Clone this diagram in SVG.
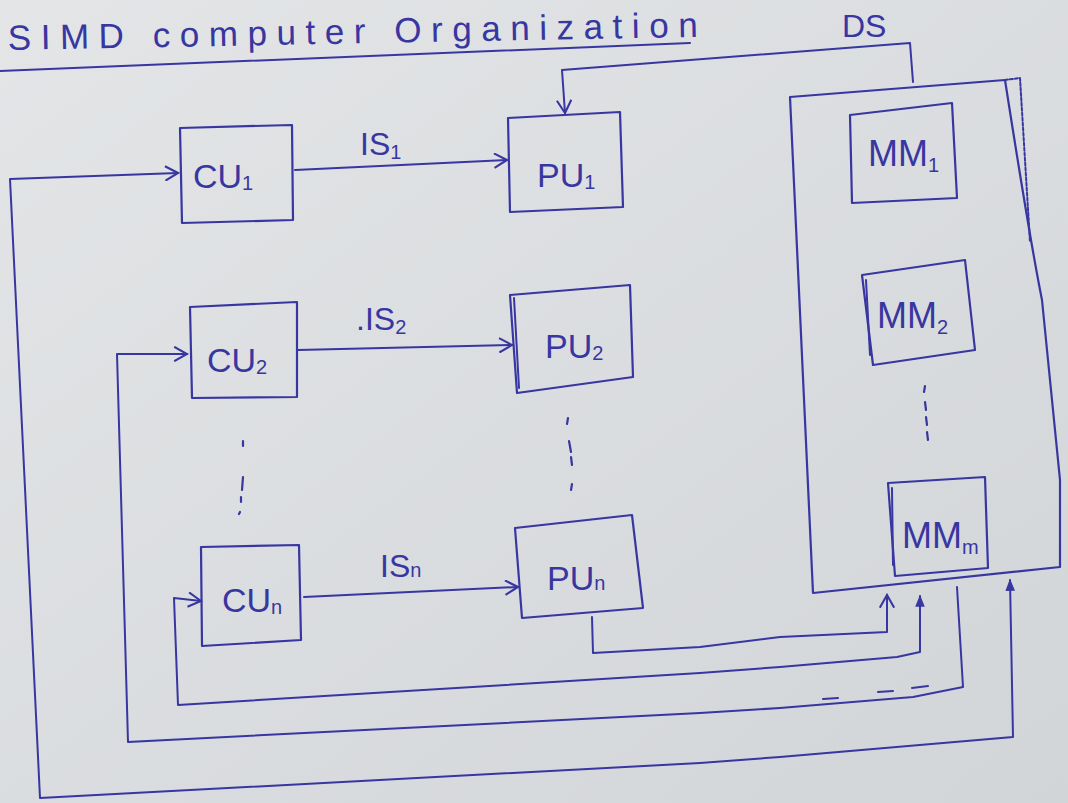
<svg xmlns="http://www.w3.org/2000/svg" width="1068" height="803" viewBox="0 0 1068 803">
  <defs>
    <linearGradient id="paper" x1="0" y1="0" x2="1" y2="1">
      <stop offset="0" stop-color="#e3e5e7"/>
      <stop offset="1" stop-color="#d2d5d8"/>
    </linearGradient>
    <marker id="open" viewBox="0 0 10 10" refX="9" refY="5" markerWidth="16" markerHeight="16" markerUnits="userSpaceOnUse" orient="auto-start-reverse">
      <path d="M1,0.5 L9,5 L1,9.5" fill="none" stroke="#3836a0" stroke-width="1.3"/>
    </marker>
    <marker id="solid" viewBox="0 0 10 10" refX="9" refY="5" markerWidth="12" markerHeight="12" markerUnits="userSpaceOnUse" orient="auto-start-reverse">
      <path d="M0,1 L10,5 L0,9 Z" fill="#3836a0"/>
    </marker>
  </defs>
  <style>
    .ink { fill: none; stroke: #3836a0; stroke-width: 2; stroke-linejoin: round; stroke-linecap: round; }
    .box { fill: none; stroke: #3836a0; stroke-width: 2.2; stroke-linejoin: round; }
    .lbl { font-family: "Liberation Sans", "DejaVu Sans", sans-serif; font-size: 34px; fill: #3836a0; }
    .sub { font-size: 20px; }
    .dot { fill: none; stroke: #3836a0; stroke-width: 2.2; stroke-linecap: round; }
  </style>

  <rect x="0" y="0" width="1068" height="803" fill="url(#paper)"/>

  <!-- title -->
  <g id="title">
    <text class="lbl" x="8" y="50" textLength="690" lengthAdjust="spacing" transform="rotate(-1.1 8 50)" style="font-size:35px">SIMD computer Organization</text>
    <path class="ink" d="M0,71 L690,43" stroke-width="2.5"/>
  </g>

  <!-- memory container -->
  <g id="memory">
    <path class="box" d="M790,97 L1005,80 Q1030,240 1042,300 L1060,480 L1060,567 L813,593 Z"/>
    <path class="ink" d="M1005,80 L1020,78 L1030,242" stroke-dasharray="3 2" stroke-width="1.5"/>
  </g>

  <g id="MM1">
    <polygon class="box" points="850,115 952,103 957,198 852,203"/>
    <text class="lbl" x="868" y="166" style="font-size:36px">MM<tspan class="sub" dy="6">1</tspan></text>
  </g>
  <g id="MM2">
    <polygon class="box" points="862,275 965,260 975,350 873,365"/>
    <path class="ink" d="M866,280 L870,355"/>
    <text class="lbl" x="877" y="328" style="font-size:36px">MM<tspan class="sub" dy="6">2</tspan></text>
  </g>
  <g id="MMm">
    <polygon class="box" points="888,483 985,477 988,568 895,576"/>
    <path class="ink" d="M892,488 L893,565"/>
    <text class="lbl" x="902" y="548" style="font-size:36px">MM<tspan class="sub" dy="6">m</tspan></text>
  </g>

  <g id="CU1">
    <polygon class="box" points="180,128 292,125 293,220 182,223"/>
    <text class="lbl" x="193" y="188">CU<tspan class="sub" dy="2">1</tspan></text>
  </g>
  <g id="CU2">
    <polygon class="box" points="190,307 297,302 297,397 192,398"/>
    <text class="lbl" x="207" y="372">CU<tspan class="sub" dy="2">2</tspan></text>
  </g>
  <g id="CUn">
    <polygon class="box" points="201,547 299,545 301,640 202,646"/>
    <text class="lbl" x="222" y="612">CU<tspan class="sub" dy="2">n</tspan></text>
  </g>

  <g id="PU1">
    <polygon class="box" points="508,118 620,112 623,207 510,212"/>
    <text class="lbl" x="537" y="187">PU<tspan class="sub" dy="2">1</tspan></text>
  </g>
  <g id="PU2">
    <polygon class="box" points="510,295 630,285 633,377 517,393"/>
    <path class="ink" d="M514,298 L519,388"/>
    <text class="lbl" x="545" y="358">PU<tspan class="sub" dy="2">2</tspan></text>
  </g>
  <g id="PUn">
    <polygon class="box" points="515,528 632,515 643,608 522,618"/>
    <text class="lbl" x="547" y="590">PU<tspan class="sub" dy="0">n</tspan></text>
  </g>

  <!-- ellipsis dots -->
  <g id="ellipses">
    <path class="dot" d="M243,441 L243,446 M243,477 L242,490 M241,497 L241,502 M240,512 L239,514"/>
    <path class="dot" d="M568,418 L567,424 M569,441 L571,452 M571,457 L572,465 M572,484 L571,490"/>
    <path class="dot" d="M925,386 L924,392 M925,402 L926,410 M926,417 L927,425 M927,432 L928,440"/>
  </g>

  <!-- connectors -->
  <g id="connectors">
    <path class="ink" d="M295,170 L507,160" marker-end="url(#open)"/>
    <path class="ink" d="M298,350 L512,345" marker-end="url(#open)"/>
    <path class="ink" d="M304,597 L518,587" marker-end="url(#open)"/>
    <path class="ink" d="M913,82 L910,43 L562,70 L565,113" marker-end="url(#open)"/>
    <path class="ink" d="M1010,580 L1013,737 L780,757 L700,763 L40,798 L10,179 L178,173" marker-start="url(#solid)" marker-end="url(#open)"/>
    <path class="ink" d="M957,587 L963,687 L913,697 L780,708 L700,713 L128,742 L117,354 L187,354" marker-end="url(#open)"/>
    <path class="ink" d="M823,699 L838,698 M878,692 L893,691 M912,688 L928,686" stroke-width="1.8"/>
    <path class="ink" d="M920,596 L920,652 L897,657 L780,667 L700,673 L178,705 L174,598 L201,601" marker-start="url(#solid)" marker-end="url(#open)"/>
    <path class="ink" d="M592,617 L593,653 L700,647 L780,637 L887,632 L887,595" marker-end="url(#open)"/>
    <text class="lbl" x="360" y="155" style="font-size:32px">IS<tspan class="sub" dy="4">1</tspan></text>
    <text class="lbl" x="356" y="330" style="font-size:32px">.IS<tspan class="sub" dy="4">2</tspan></text>
    <text class="lbl" x="380" y="577" style="font-size:32px">IS<tspan class="sub" dy="0">n</tspan></text>
    <text class="lbl" x="842" y="37" style="font-size:32px">DS</text>
  </g>
</svg>
